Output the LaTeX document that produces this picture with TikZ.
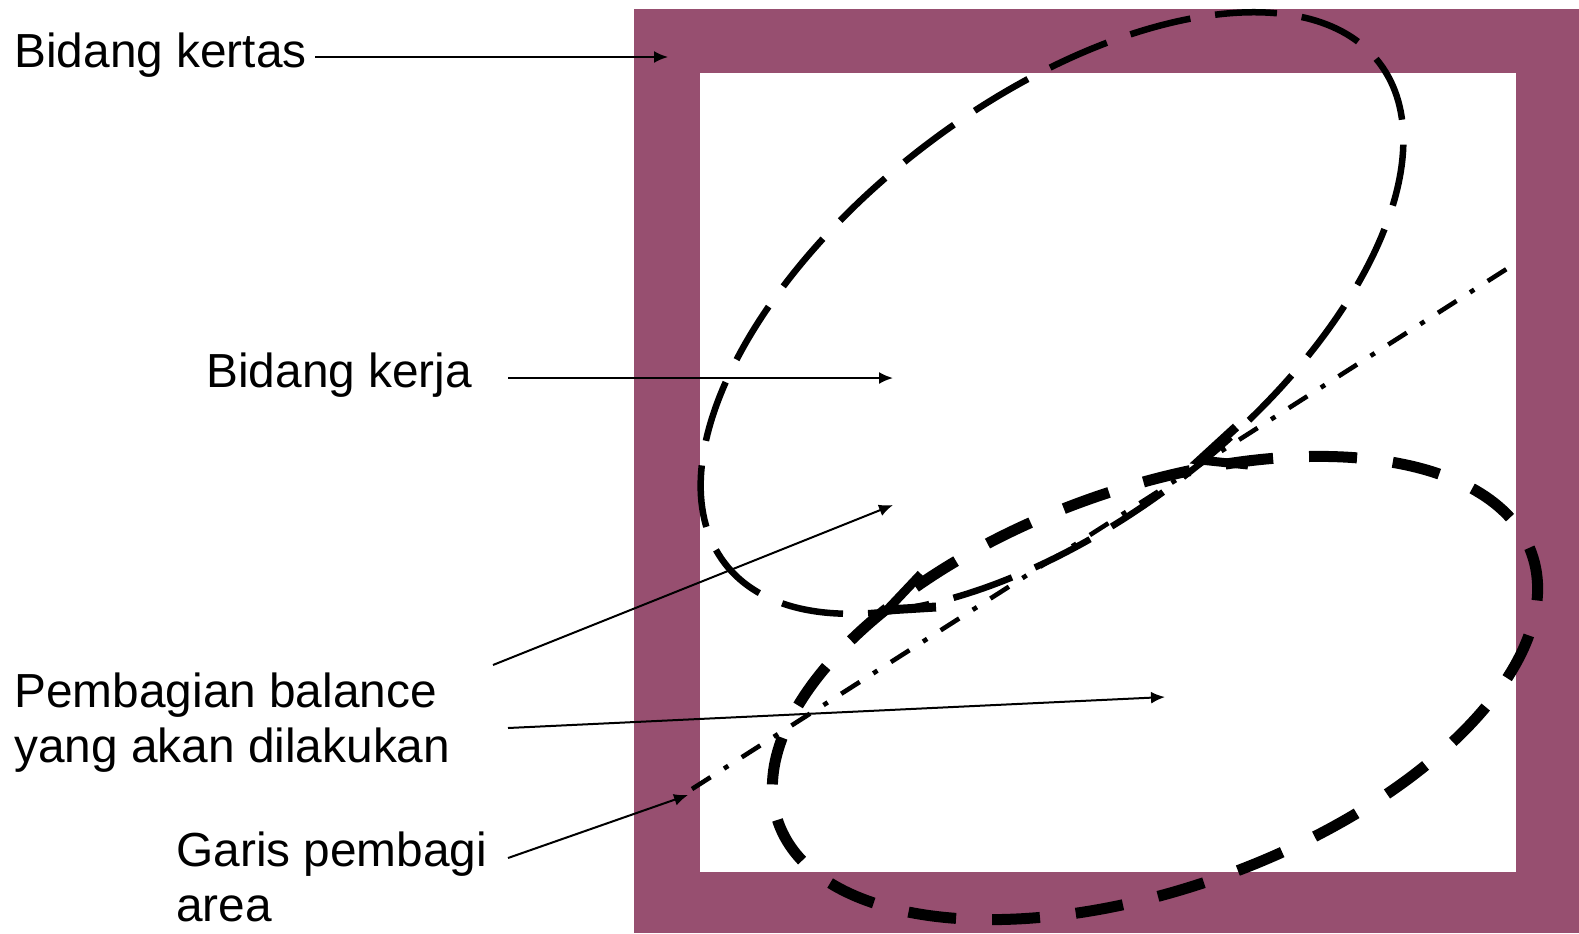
\documentclass[tikz,border=0pt]{standalone}
\usepackage{fontspec}
\setmainfont{Liberation Sans}
\usetikzlibrary{arrows.meta}
\definecolor{framecol}{RGB}{151,79,112}
\begin{document}
\begin{tikzpicture}[x=0.5pt,y=-0.5pt,
  lbl/.style={line width=1pt,-{Latex[length=7pt,width=6pt]}},
  txt/.style={font=\fontsize{23.9}{27.2}\selectfont, inner sep=0pt, anchor=base west, align=left},
  thinell/.style={line width=3.25pt, dash pattern=on 31pt off 12.5pt},
  thickell/.style={line width=5.5pt, dash pattern=on 24pt off 18pt},
  divline/.style={line width=2.3pt, dash pattern=on 11pt off 8pt on 2.5pt off 8pt},
  vmark/.style={line width=4.5pt, line join=miter}]
\useasboundingbox (0,0) rectangle (1579,933);
% paper frame
\fill[framecol] (634,9) rectangle (1579,933);
\fill[white] (700,72.5) rectangle (1516,872);
% working areas
\draw[thinell, shift={(1052,313)}, rotate=37.4] (0,0) ellipse [x radius=412, y radius=210];
\draw[thickell, shift={(1155,688)}, rotate=19.7] (0,0) ellipse [x radius=400, y radius=200];
% dividing line
\coordinate (d1) at (692,789);
\coordinate (d2) at (1516,263);
\draw[divline] (d1) -- (d2);
% open arrow marks
\coordinate (v1) at (1200,460);
\coordinate (v2) at (887,610);
\draw[vmark] (1236,427) -- (v1) -- (1248,465);
\draw[vmark] (921,574) -- (v2) -- (936,607);
% labels
\node[txt] (bk) at (14,67.5) {Bidang kertas};
\node[txt] (bkj) at (206,387) {Bidang kerja};
\node[txt] (pb) at (14,762) {Pembagian balance\\yang akan dilakukan};
\node[txt] (gp) at (176,921) {Garis pembagi\\area};
% label connectors
\coordinate (bk-s) at (315,57);   \coordinate (bk-e) at (668,57);
\coordinate (bkj-s) at (508,378); \coordinate (bkj-e) at (893,378);
\coordinate (pb-s1) at (493,665); \coordinate (pb-e1) at (893,505);
\coordinate (pb-s2) at (508,728); \coordinate (pb-e2) at (1165,697);
\coordinate (gp-s) at (508,858);  \coordinate (gp-e) at (688,795);
\draw[lbl] (bk-s) -- (bk-e);
\draw[lbl] (bkj-s) -- (bkj-e);
\draw[lbl] (pb-s1) -- (pb-e1);
\draw[lbl] (pb-s2) -- (pb-e2);
\draw[lbl] (gp-s) -- (gp-e);
\end{tikzpicture}
\end{document}
